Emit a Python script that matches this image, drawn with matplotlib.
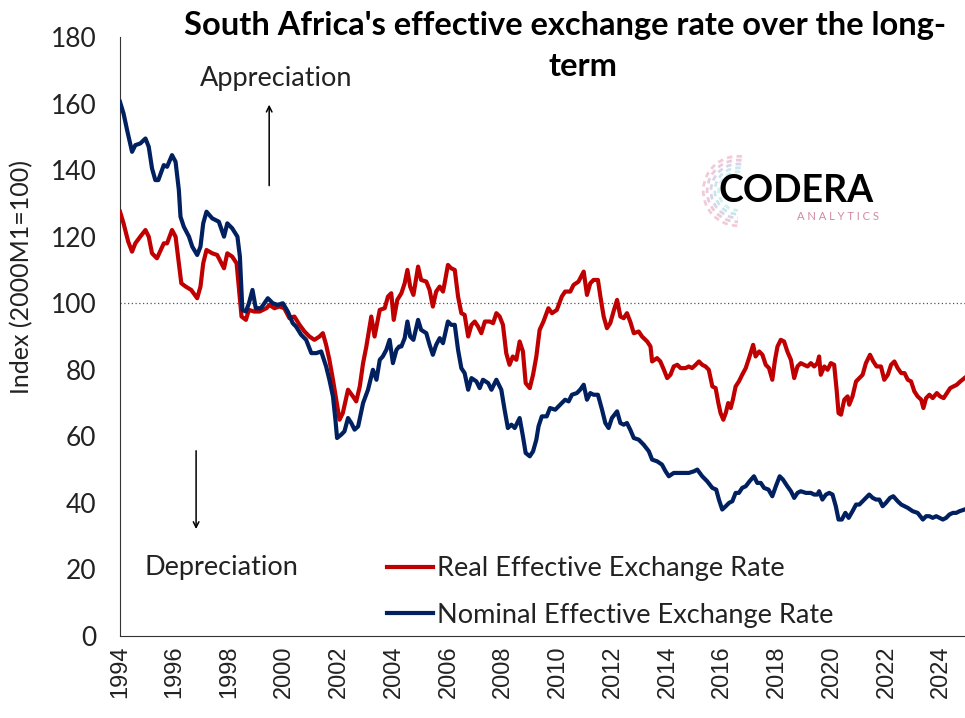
import matplotlib
matplotlib.use("Agg")
import matplotlib.pyplot as plt
from matplotlib.patches import Arc
import numpy as np

plt.rcParams['font.family'] = ['Lato', 'DejaVu Sans']

real_years = [1994.00, 1994.13, 1994.30, 1994.44, 1994.56, 1994.74, 1994.93, 1995.05, 1995.17, 1995.35,
              1995.60, 1995.72, 1995.90, 1996.03, 1996.15, 1996.24, 1996.40, 1996.60, 1996.82, 1996.94,
              1997.04, 1997.16, 1997.37, 1997.55, 1997.80, 1997.92, 1998.10, 1998.26, 1998.35, 1998.44,
              1998.60, 1998.71, 1998.90, 1999.10, 1999.35, 1999.46, 1999.64, 1999.82, 2000.00, 2000.19,
              2000.37, 2000.56, 2000.74, 2000.92, 2001.10, 2001.29, 2001.41, 2001.53, 2001.65, 2001.78,
              2001.90, 2002.02, 2002.14, 2002.33, 2002.51, 2002.63, 2002.76, 2002.88, 2003.00, 2003.18,
              2003.30, 2003.49, 2003.67, 2003.79, 2003.91, 2004.00, 2004.13, 2004.28, 2004.40, 2004.50,
              2004.60, 2004.72, 2004.89, 2005.00, 2005.19, 2005.31, 2005.43, 2005.55, 2005.68, 2005.80,
              2005.86, 2005.98, 2006.10, 2006.23, 2006.35, 2006.47, 2006.59, 2006.72, 2006.84, 2006.96,
              2007.08, 2007.20, 2007.33, 2007.51, 2007.63, 2007.75, 2007.87, 2007.99, 2008.11, 2008.23,
              2008.35, 2008.48, 2008.60, 2008.72, 2008.82, 2008.97, 2009.09, 2009.21, 2009.33, 2009.47,
              2009.65, 2009.78, 2009.96, 2010.14, 2010.26, 2010.45, 2010.57, 2010.75, 2010.94, 2011.06,
              2011.18, 2011.30, 2011.46, 2011.55, 2011.67, 2011.79, 2011.91, 2012.03, 2012.16, 2012.28,
              2012.40, 2012.52, 2012.64, 2012.77, 2012.95, 2013.07, 2013.26, 2013.38, 2013.44, 2013.62,
              2013.74, 2013.87, 2013.99, 2014.11, 2014.23, 2014.36, 2014.48, 2014.66, 2014.78, 2014.90,
              2015.03, 2015.15, 2015.27, 2015.39, 2015.51, 2015.64, 2015.76, 2015.86, 2015.94, 2016.04,
              2016.13, 2016.22, 2016.31, 2016.39, 2016.49, 2016.61, 2016.73, 2016.86, 2016.98, 2017.13,
              2017.22, 2017.35, 2017.47, 2017.59, 2017.71, 2017.83, 2017.93, 2018.02, 2018.14, 2018.26,
              2018.38, 2018.51, 2018.63, 2018.75, 2018.87, 2018.99, 2019.12, 2019.24, 2019.36, 2019.48,
              2019.54, 2019.60, 2019.73, 2019.85, 2019.97, 2020.09, 2020.18, 2020.25, 2020.34, 2020.46,
              2020.58, 2020.64, 2020.76, 2020.89, 2021.01, 2021.13, 2021.25, 2021.40, 2021.52, 2021.64,
              2021.80, 2021.92, 2022.05, 2022.17, 2022.29, 2022.41, 2022.54, 2022.66, 2022.78, 2022.90,
              2023.02, 2023.14, 2023.27, 2023.35, 2023.45, 2023.57, 2023.69, 2023.84, 2023.96, 2024.09,
              2024.21, 2024.33, 2024.45, 2024.57, 2024.70, 2024.85]
real_values = [127.5, 124, 118.5, 115.5, 118, 120, 122, 120, 115, 113.5,
               118, 118, 122, 120, 112, 106, 105, 104, 101.5, 105,
               112, 116, 115, 114.5, 110.5, 115, 114, 112, 104, 96,
               95, 98, 97.5, 97.5, 98.5, 99.5, 98.5, 99, 98.5, 95.5,
               96, 93.5, 91.5, 90, 89, 90, 91, 87.5, 83, 77,
               71, 65, 67, 74, 72, 70.5, 75, 82, 87, 96,
               90, 98, 98.5, 102, 103, 95, 101, 103, 106, 110,
               105, 102.5, 111, 107, 106.5, 104, 99, 103.5, 105, 103.5,
               106, 111.5, 110.5, 110, 102, 97, 96.5, 90, 93.5, 94.5,
               93, 91, 94.5, 94.5, 94, 97, 96, 93.5, 85, 81.5,
               84, 83, 88.5, 85.5, 76, 74.5, 78.5, 84, 92, 94.5,
               98.5, 97, 98, 102, 103.5, 103.5, 105.5, 106.5, 109.5, 102.5,
               106, 107, 107, 102, 96, 92.5, 94, 97.5, 101, 96,
               95.5, 97, 94.5, 91, 91.5, 90, 88.5, 87, 82.5, 83.5,
               82.5, 80, 77.5, 78.5, 81, 81.5, 80.5, 80.5, 81, 80.5,
               81.5, 82.5, 81.5, 81, 80, 75, 74.5, 70, 67, 65,
               67, 70, 68.5, 71, 75, 76.5, 78.5, 80.5, 83.5, 87.5,
               84, 85.5, 84.5, 81.5, 80.5, 77, 83, 87, 89, 88.5,
               85.5, 83, 77.5, 81, 82, 81.5, 81, 82, 81, 82,
               84, 78.5, 81, 80, 82, 81.5, 74, 67, 66.5, 71,
               72, 69.5, 72, 76.5, 77.5, 78.5, 82, 84.5, 82.5, 81,
               81, 77, 78.5, 81.5, 82.5, 80.5, 79, 79, 77, 76.5,
               73.5, 72, 71, 68.5, 71.5, 72.5, 71.5, 73, 72, 71.5,
               73, 74.5, 75, 75.5, 76.5, 77.5]

nominal_years = [1994.00, 1994.13, 1994.26, 1994.44, 1994.56, 1994.74, 1994.93, 1995.05, 1995.17, 1995.29,
                 1995.40, 1995.60, 1995.72, 1995.90, 1996.03, 1996.15, 1996.21, 1996.33, 1996.52, 1996.64,
                 1996.82, 1996.94, 1997.04, 1997.16, 1997.37, 1997.61, 1997.80, 1997.92, 1998.10, 1998.29,
                 1998.38, 1998.47, 1998.60, 1998.71, 1998.84, 1998.96, 1999.15, 1999.40, 1999.58, 1999.76,
                 1999.95, 2000.13, 2000.31, 2000.43, 2000.62, 2000.80, 2000.99, 2001.17, 2001.35, 2001.53,
                 2001.65, 2001.78, 2001.87, 2001.93, 2002.08, 2002.20, 2002.33, 2002.45, 2002.57, 2002.70,
                 2002.88, 2003.06, 2003.24, 2003.37, 2003.49, 2003.60, 2003.73, 2003.85, 2003.97, 2004.10,
                 2004.20, 2004.28, 2004.40, 2004.50, 2004.60, 2004.72, 2004.89, 2005.00, 2005.19, 2005.31,
                 2005.43, 2005.55, 2005.68, 2005.80, 2005.98, 2006.10, 2006.23, 2006.35, 2006.47, 2006.59,
                 2006.72, 2006.84, 2007.02, 2007.14, 2007.26, 2007.45, 2007.57, 2007.75, 2007.93, 2008.05,
                 2008.17, 2008.30, 2008.42, 2008.60, 2008.72, 2008.82, 2008.97, 2009.09, 2009.21, 2009.29,
                 2009.41, 2009.59, 2009.71, 2009.90, 2010.08, 2010.26, 2010.39, 2010.51, 2010.69, 2010.81,
                 2010.94, 2011.06, 2011.18, 2011.30, 2011.46, 2011.61, 2011.73, 2011.85, 2011.97, 2012.16,
                 2012.28, 2012.40, 2012.52, 2012.64, 2012.77, 2012.95, 2013.13, 2013.32, 2013.44, 2013.62,
                 2013.80, 2013.93, 2014.05, 2014.23, 2014.42, 2014.54, 2014.78, 2014.97, 2015.09, 2015.27,
                 2015.45, 2015.64, 2015.78, 2015.88, 2016.00, 2016.13, 2016.25, 2016.37, 2016.49, 2016.61,
                 2016.73, 2016.86, 2017.00, 2017.16, 2017.28, 2017.41, 2017.53, 2017.69, 2017.83, 2017.96,
                 2018.10, 2018.22, 2018.38, 2018.51, 2018.63, 2018.75, 2018.87, 2019.06, 2019.24, 2019.36,
                 2019.48, 2019.54, 2019.66, 2019.79, 2019.91, 2020.03, 2020.15, 2020.25, 2020.37, 2020.50,
                 2020.62, 2020.76, 2020.89, 2021.01, 2021.13, 2021.25, 2021.37, 2021.50, 2021.62, 2021.74,
                 2021.86, 2021.98, 2022.13, 2022.25, 2022.41, 2022.54, 2022.66, 2022.78, 2022.96, 2023.14,
                 2023.33, 2023.45, 2023.57, 2023.69, 2023.82, 2023.94, 2024.06, 2024.18, 2024.30, 2024.43,
                 2024.55, 2024.67, 2024.85]
nominal_values = [160.5, 157, 152, 145.5, 147.5, 148, 149.5, 147, 140.5, 137,
                  137, 141.5, 141, 144.5, 142.5, 134, 126, 123, 120, 117,
                  114.5, 117, 124, 127.5, 125.5, 124.5, 120, 124, 122.5, 120,
                  114, 98, 97.5, 100, 104, 98.5, 98.5, 101.5, 100, 99.5,
                  100, 97.5, 94, 93, 90.5, 89, 85, 85, 85.5, 81,
                  77, 72, 65, 59.5, 60.5, 61.5, 65.5, 64, 62, 63,
                  70, 74, 80, 77, 83, 84, 86, 89, 82, 86,
                  87, 87, 89.5, 94.5, 90, 89, 95, 92, 91, 87.5,
                  84.5, 87.5, 89.5, 88, 94.5, 93.5, 93.5, 86, 80.5, 79,
                  74, 77.5, 76.5, 74.5, 77, 76, 74, 77, 74, 68,
                  62.5, 63.5, 62.5, 65.5, 60, 55, 54, 55.5, 59, 63,
                  66, 66, 68.5, 68, 69.5, 71, 70.5, 72.5, 73, 74,
                  75.5, 71, 73, 72.5, 72.5, 68, 64, 62.5, 65.5, 67.5,
                  64, 63.5, 64, 62, 59.5, 59, 57.5, 55.5, 53, 52.5,
                  51.5, 49.5, 48, 49, 49, 49, 49, 49.5, 50, 48,
                  46.5, 44.5, 44, 41, 38, 39, 40, 40.5, 43, 43,
                  44.5, 45, 46.5, 48, 46, 46, 44.5, 44, 42, 45,
                  48, 47, 45, 43.5, 41.5, 43, 43.5, 43, 43, 42.5,
                  42.5, 43.5, 41, 42.5, 43, 42.5, 39, 35, 35, 37,
                  35.5, 37.5, 39.5, 39.5, 40.5, 41.5, 42.5, 41.5, 41, 41,
                  39, 40, 41.5, 42, 40.5, 39.5, 39, 38.5, 37.5, 37,
                  35, 36, 36, 35.5, 36, 35.5, 35, 35.5, 36.5, 37,
                  37, 37.5, 38]

x_ticks = list(range(1994, 2025, 2))
y_ticks = list(range(0, 181, 20))
real_label = "Real Effective Exchange Rate"
nominal_label = "Nominal Effective Exchange Rate"
title_line1 = "South Africa's effective exchange rate over the long-"
title_line2 = "term"

RED = "#C00000"
NAVY = "#002060"

fig = plt.figure(figsize=(9.65, 7.18), dpi=100)
ax = fig.add_axes([120/965, 1-636/718, 1-120/965, (636-37)/718])

ax.axhline(100, color="#555555", lw=0.9, ls=(0, (1, 2)), zorder=1)
ax.plot(real_years, real_values, color=RED, lw=3.0, label=real_label, zorder=3)
ax.plot(nominal_years, nominal_values, color=NAVY, lw=3.0, label=nominal_label, zorder=3)

ax.set_xlim(1994, 2024.87)
ax.set_ylim(0, 180)
ax.set_xticks(x_ticks)
ax.set_xticklabels([str(t) for t in x_ticks], rotation=90, fontsize=17,
                   family=['Liberation Sans', 'DejaVu Sans'], color="#222222")
ax.set_yticks(y_ticks)
ax.set_yticklabels([str(t) for t in y_ticks], fontsize=19, color="#222222")
ax.tick_params(axis='both', length=0)
ax.tick_params(axis='y', pad=17)
ax.tick_params(axis='x', pad=7)
for s in ['top', 'right']:
    ax.spines[s].set_visible(False)
ax.spines['left'].set_color('#333333')
ax.spines['bottom'].set_color('#333333')

fig.text(22/965, 1-277/718, "Index (2000M1=100)", rotation=90, ha='center', va='center',
         fontsize=18, color="#222222")

fig.text(565/965, 1-26/718, title_line1, ha='center', va='center', fontsize=23.5,
         fontweight='bold', color='black')
fig.text(583/965, 1-66/718, title_line2, ha='center', va='center', fontsize=23.5,
         fontweight='bold', color='black')

ax.text(1999.7, 167.5, "Appreciation", ha='center', va='center', fontsize=19.5, color="#222222")
ax.annotate("", xy=(1999.45, 160.5), xytext=(1999.45, 134.5),
            arrowprops=dict(arrowstyle='->', color='black', lw=1.1))
ax.text(1997.7, 20.7, "Depreciation", ha='center', va='center', fontsize=19.5, color="#222222")
ax.annotate("", xy=(1996.78, 31.3), xytext=(1996.78, 56.5),
            arrowprops=dict(arrowstyle='->', color='black', lw=1.1))

leg = ax.legend(loc='lower left', bbox_to_anchor=(0.2866, -0.027), frameon=False,
                fontsize=19.5, handlelength=1.7, handletextpad=0.18, labelspacing=0.79,
                labelcolor="#222222")

# logo
fig.text(718/965, 1-191/718, "CODERA", ha='left', va='center', fontsize=27,
         fontweight='bold', color='black')
fig.text(879/965, 1-217/718, "A N A L Y T I C S", ha='right', va='center', fontsize=8,
         color='#d08aa0')
logo_cols = ['#efb6c6', '#e2b6cf', '#c9c2e0', '#b3dce3', '#bde8e8']
for i, c in enumerate(logo_cols):
    r = 0.036 - i * 0.004
    arc = Arc((738/965, 1-191/718), 2*r, 2*r*965/718, theta1=85, theta2=270,
              transform=fig.transFigure, color=c, lw=2.0, alpha=0.7, ls=(0, (2, 1.5)))
    fig.add_artist(arc)

fig.savefig("out.png", dpi=100)
